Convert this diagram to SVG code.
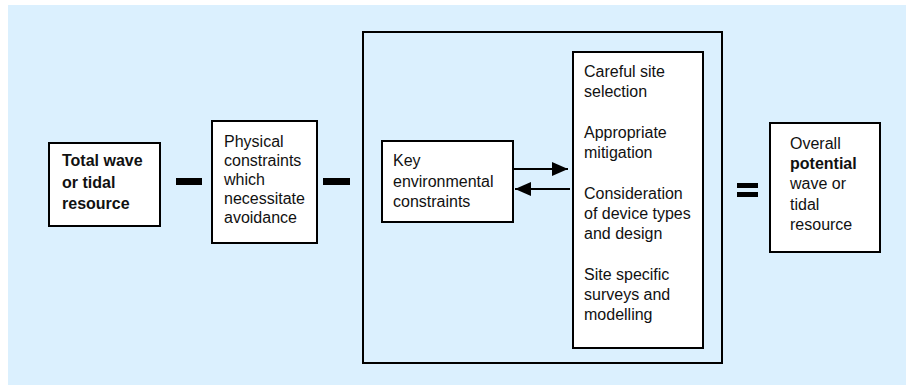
<svg xmlns="http://www.w3.org/2000/svg" width="906" height="385" viewBox="0 0 906 385">
<style>
.box{fill:#ffffff;stroke:#000;stroke-width:2}
.t{font-family:"Liberation Sans",Arial,sans-serif;font-size:16px;fill:#111}
.b{font-weight:bold}
.op{fill:#000}
.con{stroke:#000;stroke-width:2;fill:none}
</style>
<defs>
<marker id="ah" markerWidth="16" markerHeight="14" refX="16" refY="7" orient="auto" markerUnits="userSpaceOnUse" viewBox="0 0 16 14">
<path d="M0,0 L16,7 L0,14 Z" fill="#000"/>
</marker>
</defs>
<rect x="8" y="5" width="898" height="380" fill="#dbf0fe"/>
<g id="total-resource">
<rect class="box" x="49" y="143" width="111" height="83"/>
<text class="t b"><tspan x="62" y="166">Total wave</tspan><tspan x="62" y="188">or tidal</tspan><tspan x="62" y="209">resource</tspan></text>
</g>
<g id="minus1"><rect class="op" x="176" y="178" width="26" height="7"/></g>
<g id="physical-constraints">
<rect class="box" x="212" y="121" width="105" height="122"/>
<text class="t"><tspan x="224" y="147">Physical</tspan><tspan x="224" y="166">constraints</tspan><tspan x="224" y="185">which</tspan><tspan x="224" y="204">necessitate</tspan><tspan x="224" y="223">avoidance</tspan></text>
</g>
<g id="minus2"><rect class="op" x="323" y="178" width="27" height="7"/></g>
<g id="environmental-group">
<rect x="363" y="32" width="359" height="331" fill="none" stroke="#000" stroke-width="2"/>
</g>
<g id="key-constraints">
<rect class="box" x="382" y="141" width="131" height="81"/>
<text class="t"><tspan x="393" y="166">Key</tspan><tspan x="393" y="187">environmental</tspan><tspan x="393" y="207">constraints</tspan></text>
</g>
<g id="measures">
<rect class="box" x="573" y="52" width="130" height="296"/>
<text class="t"><tspan x="584" y="77">Careful site</tspan><tspan x="584" y="97">selection</tspan><tspan x="584" y="138">Appropriate</tspan><tspan x="584" y="158">mitigation</tspan><tspan x="584" y="199">Consideration</tspan><tspan x="584" y="219">of device types</tspan><tspan x="584" y="239">and design</tspan><tspan x="584" y="280">Site specific</tspan><tspan x="584" y="300">surveys and</tspan><tspan x="584" y="320">modelling</tspan></text>
</g>
<g id="connectors">
<line class="con" x1="514" y1="169" x2="568" y2="169" marker-end="url(#ah)"/>
<line class="con" x1="570" y1="189" x2="515" y2="189" marker-end="url(#ah)"/>
</g>
<g id="equals">
<rect class="op" x="737" y="183" width="21" height="5"/>
<rect class="op" x="737" y="192" width="21" height="5"/>
</g>
<g id="overall-potential">
<rect class="box" x="770" y="123" width="110" height="129"/>
<text class="t"><tspan x="790" y="149">Overall</tspan><tspan x="790" y="169" class="b">potential</tspan><tspan x="790" y="189">wave or</tspan><tspan x="790" y="210">tidal</tspan><tspan x="790" y="230">resource</tspan></text>
</g>
</svg>
